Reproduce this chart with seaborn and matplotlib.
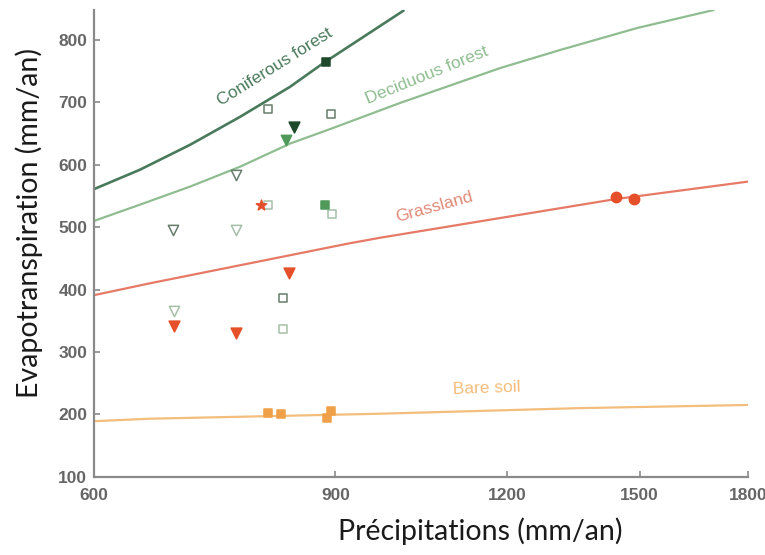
#!/usr/bin/env python3
"""Evapotranspiration vs. precipitation by land cover, with site observations."""

import matplotlib.pyplot as plt
import seaborn as sns

# Reference curves (precipitation mm/an, evapotranspiration mm/an)
CONIF_P = [600, 648, 705, 767, 834, 882, 1009]
CONIF_ET = [561, 592, 632, 677, 725, 763, 847]
DECID_P = [600, 648, 705, 767, 834, 894, 1003, 1187, 1313, 1493, 1699]
DECID_ET = [510, 536, 565, 597, 634, 658, 699, 755, 784, 819, 848]
GRASS_P = [600, 659, 921, 970, 1441, 1800]
GRASS_ET = [391, 410, 474, 483, 545, 573]
BARE_P = [600, 659, 970, 1358, 1800]
BARE_ET = [189, 193, 201, 210, 215]

# Site observations
CONIF_SQ_P, CONIF_SQ_ET = [886], [765]
CONIF_TRI_P, CONIF_TRI_ET = [839], [660]
DECID_SQ_P, DECID_SQ_ET = [885], [536]
DECID_TRI_P, DECID_TRI_ET = [828], [640]
OPEN_SQ_DARK_P, OPEN_SQ_DARK_ET = [803, 893, 824], [689, 681, 386]
OPEN_SQ_LIGHT_P, OPEN_SQ_LIGHT_ET = [804, 895, 824], [535, 521, 336]
OPEN_TRI_DARK_P, OPEN_TRI_DARK_ET = [685, 762], [496, 584]
OPEN_TRI_LIGHT_P, OPEN_TRI_LIGHT_ET = [762, 686], [496, 366]
GRASS_STAR_P, GRASS_STAR_ET = [794], [535]
GRASS_TRI_P, GRASS_TRI_ET = [833, 686, 762], [426, 342, 331]
GRASS_DOT_P, GRASS_DOT_ET = [1441, 1487], [548, 545]
BARE_SQ_P, BARE_SQ_ET = [804, 821, 887, 893], [202, 201, 194, 206]

X_TICKS = [600, 900, 1200, 1500, 1800]
Y_TICKS = [100, 200, 300, 400, 500, 600, 700, 800]

C_CONIF = "#4a7a5c"
C_DECID = "#8fbd90"
C_GRASS = "#e67a66"
C_BARE = "#f3bd7c"
C_DARK = "#1d4a2c"
C_MID = "#4f9a5a"
C_RED = "#e5502a"
C_ORANGE = "#f0a048"
C_EDGE_DARK = "#667d6b"
C_EDGE_LIGHT = "#a6c0a8"
AXIS_GREY = "#8a8a8a"


def draw_curves(ax):
    """Land-cover reference curves with their inline labels."""
    sns.lineplot(x=CONIF_P, y=CONIF_ET, ax=ax, color=C_CONIF, lw=1.9)
    sns.lineplot(x=DECID_P, y=DECID_ET, ax=ax, color=C_DECID, lw=1.6)
    sns.lineplot(x=GRASS_P, y=GRASS_ET, ax=ax, color=C_GRASS, lw=1.6)
    sns.lineplot(x=BARE_P, y=BARE_ET, ax=ax, color=C_BARE, lw=1.6)
    lab = dict(family="Liberation Sans", fontsize=12.5, ha="center",
               va="center", rotation_mode="anchor")
    ax.text(813, 757, "Coniferous forest", color=C_CONIF, rotation=32, **lab)
    ax.text(1049, 744, "Deciduous forest", color=C_DECID, rotation=22, **lab)
    ax.text(1062, 532, "Grassland", color="#e08a78", rotation=15.5, **lab)
    ax.text(1160, 242, "Bare soil", color=C_BARE, rotation=2, **lab)


def draw_sites(ax):
    """Scatter the observed sites, one call per marker style."""
    groups = [
        (OPEN_SQ_DARK_P, OPEN_SQ_DARK_ET, "s", "white", C_EDGE_DARK, 30),
        (OPEN_SQ_LIGHT_P, OPEN_SQ_LIGHT_ET, "s", "white", C_EDGE_LIGHT, 30),
        (OPEN_TRI_DARK_P, OPEN_TRI_DARK_ET, "v", "white", C_EDGE_DARK, 55),
        (OPEN_TRI_LIGHT_P, OPEN_TRI_LIGHT_ET, "v", "white", C_EDGE_LIGHT, 55),
        (CONIF_SQ_P, CONIF_SQ_ET, "s", C_DARK, C_DARK, 35),
        (CONIF_TRI_P, CONIF_TRI_ET, "v", C_DARK, C_DARK, 60),
        (DECID_SQ_P, DECID_SQ_ET, "s", C_MID, C_MID, 32),
        (DECID_TRI_P, DECID_TRI_ET, "v", C_MID, C_MID, 55),
        (GRASS_STAR_P, GRASS_STAR_ET, "*", C_RED, C_RED, 60),
        (GRASS_TRI_P, GRASS_TRI_ET, "v", C_RED, C_RED, 60),
        (GRASS_DOT_P, GRASS_DOT_ET, "o", C_RED, C_RED, 55),
        (BARE_SQ_P, BARE_SQ_ET, "s", C_ORANGE, C_ORANGE, 40),
    ]
    for xs, ys, mk, face, edge, size in groups:
        sns.scatterplot(x=xs, y=ys, ax=ax, marker=mk, s=size, color=face,
                        edgecolor=edge, linewidth=1.1, zorder=3)


def main():
    sns.set_style("ticks")
    fig = plt.figure(figsize=(7.65, 5.55), dpi=100)
    ax = fig.add_axes([0.123, 0.141, 0.855, 0.841])

    draw_curves(ax)
    draw_sites(ax)

    # Axes
    ax.set_xscale("log")
    ax.set_xlim(600, 1800)
    ax.set_ylim(100, 848)
    ax.set_xticks(X_TICKS)
    ax.set_xticklabels([str(t) for t in X_TICKS])
    ax.xaxis.set_minor_locator(plt.NullLocator())
    ax.set_yticks(Y_TICKS)
    ax.tick_params(direction="in", length=4, width=1.2, color=AXIS_GREY,
                   labelsize=12.5, labelcolor="#666666")
    ax.tick_params(axis="x", pad=8)
    ax.tick_params(axis="y", pad=5)
    for t in ax.get_xticklabels() + ax.get_yticklabels():
        t.set_family("Liberation Sans")
        t.set_fontweight("bold")
    sns.despine(ax=ax)
    for side in ("left", "bottom"):
        ax.spines[side].set_color(AXIS_GREY)
        ax.spines[side].set_linewidth(1.6)

    # Labels
    lab = dict(family="Lato", fontsize=20.5, color="#1a1a1a")
    ax.set_xlabel("Précipitations (mm/an)", **lab)
    ax.set_ylabel("Evapotranspiration (mm/an)", **lab)
    ax.xaxis.set_label_coords(0.59, -0.088)
    ax.yaxis.set_label_coords(-0.078, 0.544)

    fig.savefig("out.png", dpi=100)


if __name__ == "__main__":
    main()
